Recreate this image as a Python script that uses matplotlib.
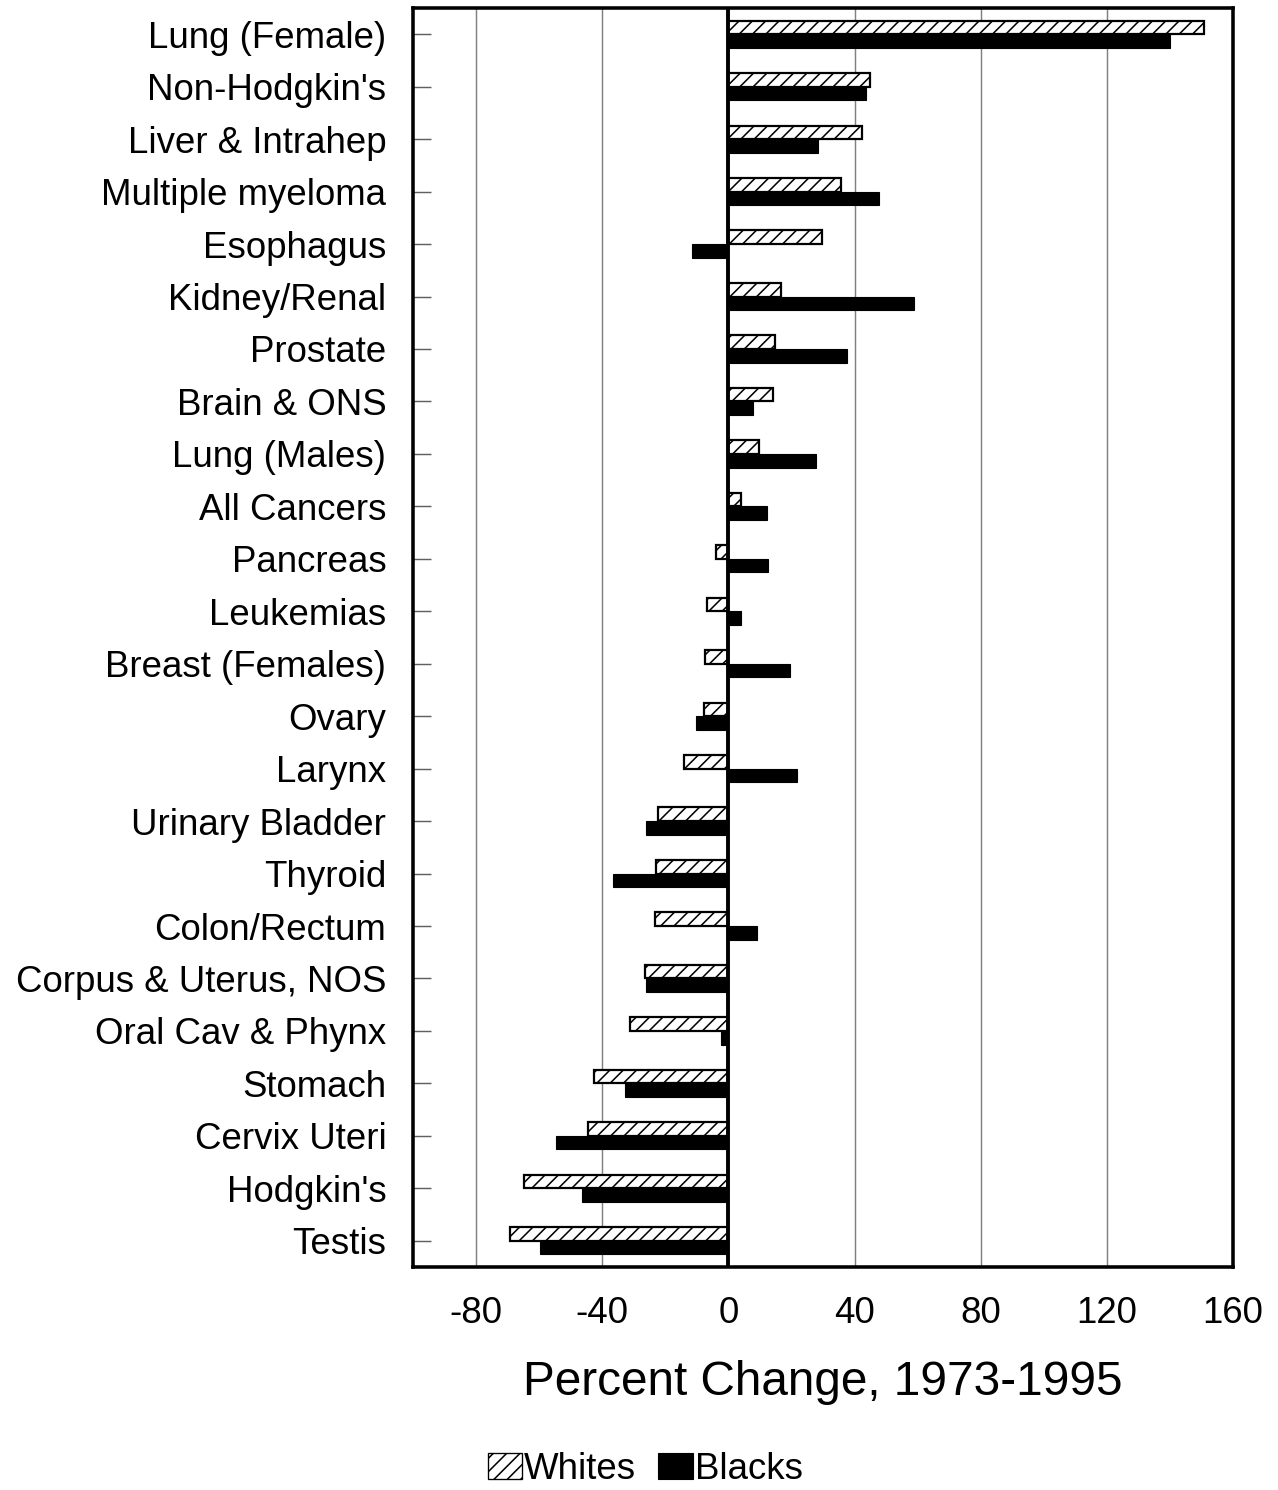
import matplotlib
matplotlib.use("Agg")
import matplotlib.pyplot as plt
import matplotlib.patches as mpatches
import numpy as np

plt.rcParams['font.family'] = ['Liberation Sans', 'DejaVu Sans']
plt.rcParams['hatch.linewidth'] = 1.4

categories = ["Lung (Female)", "Non-Hodgkin's", "Liver & Intrahep", "Multiple myeloma",
              "Esophagus", "Kidney/Renal", "Prostate", "Brain & ONS", "Lung (Males)",
              "All Cancers", "Pancreas", "Leukemias", "Breast (Females)", "Ovary",
              "Larynx", "Urinary Bladder", "Thyroid", "Colon/Rectum",
              "Corpus & Uterus, NOS", "Oral Cav & Phynx", "Stomach", "Cervix Uteri",
              "Hodgkin's", "Testis"]
whites = [150.8, 44.8, 42.5, 35.6, 29.8, 16.8, 14.9, 14.0, 9.8, 4.1, -3.8, -6.7,
          -7.3, -7.6, -14.0, -22.2, -22.9, -23.2, -26.3, -31.1, -42.5, -44.4, -64.8, -69.2]
blacks = [140.0, 43.5, 28.3, 47.6, -11.4, 58.7, 37.5, 7.9, 27.9, 12.4, 12.7, 4.1,
          19.4, -10.2, 21.6, -26.0, -36.5, 9.2, -26.0, -2.5, -32.7, -54.6, -46.3, -59.7]
xticks = [-80, -40, 0, 40, 80, 120, 160]

DPI = 80
fig = plt.figure(figsize=(1278 / DPI, 1490 / DPI), dpi=DPI)
ax = fig.add_axes([413 / 1278, 1 - 1267 / 1490, (1233 - 413) / 1278, (1267 - 8) / 1490])

y = np.arange(len(categories))
h = 0.26
ax.barh(y - h / 2, whites, height=h, color='white', edgecolor='black',
        hatch='//', linewidth=2.0, zorder=3, label='Whites')
ax.barh(y + h / 2, blacks, height=h, color='black', edgecolor='black',
        linewidth=1.0, zorder=3, label='Blacks')

ax.set_xlim(-100, 160)
ax.set_ylim(len(categories) - 0.5, -0.5)
ax.set_xticks(xticks)
ax.set_xticklabels([str(t) for t in xticks])
ax.set_yticks(y)
ax.set_yticklabels(categories)

for t in xticks:
    if t == 0:
        ax.axvline(0, color='black', linewidth=3.5, zorder=4)
    elif t < 160:
        ax.axvline(t, color='#808080', linewidth=1.3, zorder=1)

ax.tick_params(axis='y', direction='in', length=16, width=1.3, color='#606060',
               labelsize=33, pad=24)
ax.tick_params(axis='x', length=0, labelsize=33, pad=26)
for s in ax.spines.values():
    s.set_linewidth(3.2)
    s.set_color('black')

ax.set_xlabel('Percent Change, 1973-1995', fontsize=43, labelpad=26)

handles = [mpatches.Patch(facecolor='white', edgecolor='black', hatch='//', linewidth=1.2),
           mpatches.Patch(facecolor='black', edgecolor='black')]
fig.legend(handles, ['Whites', 'Blacks'], loc='lower center', bbox_to_anchor=(0.505, -0.02),
           ncol=2, frameon=False, fontsize=33, handlelength=0.95, handleheight=0.75,
           handletextpad=0.05, columnspacing=0.6)

fig.savefig('out.png', dpi=DPI)
